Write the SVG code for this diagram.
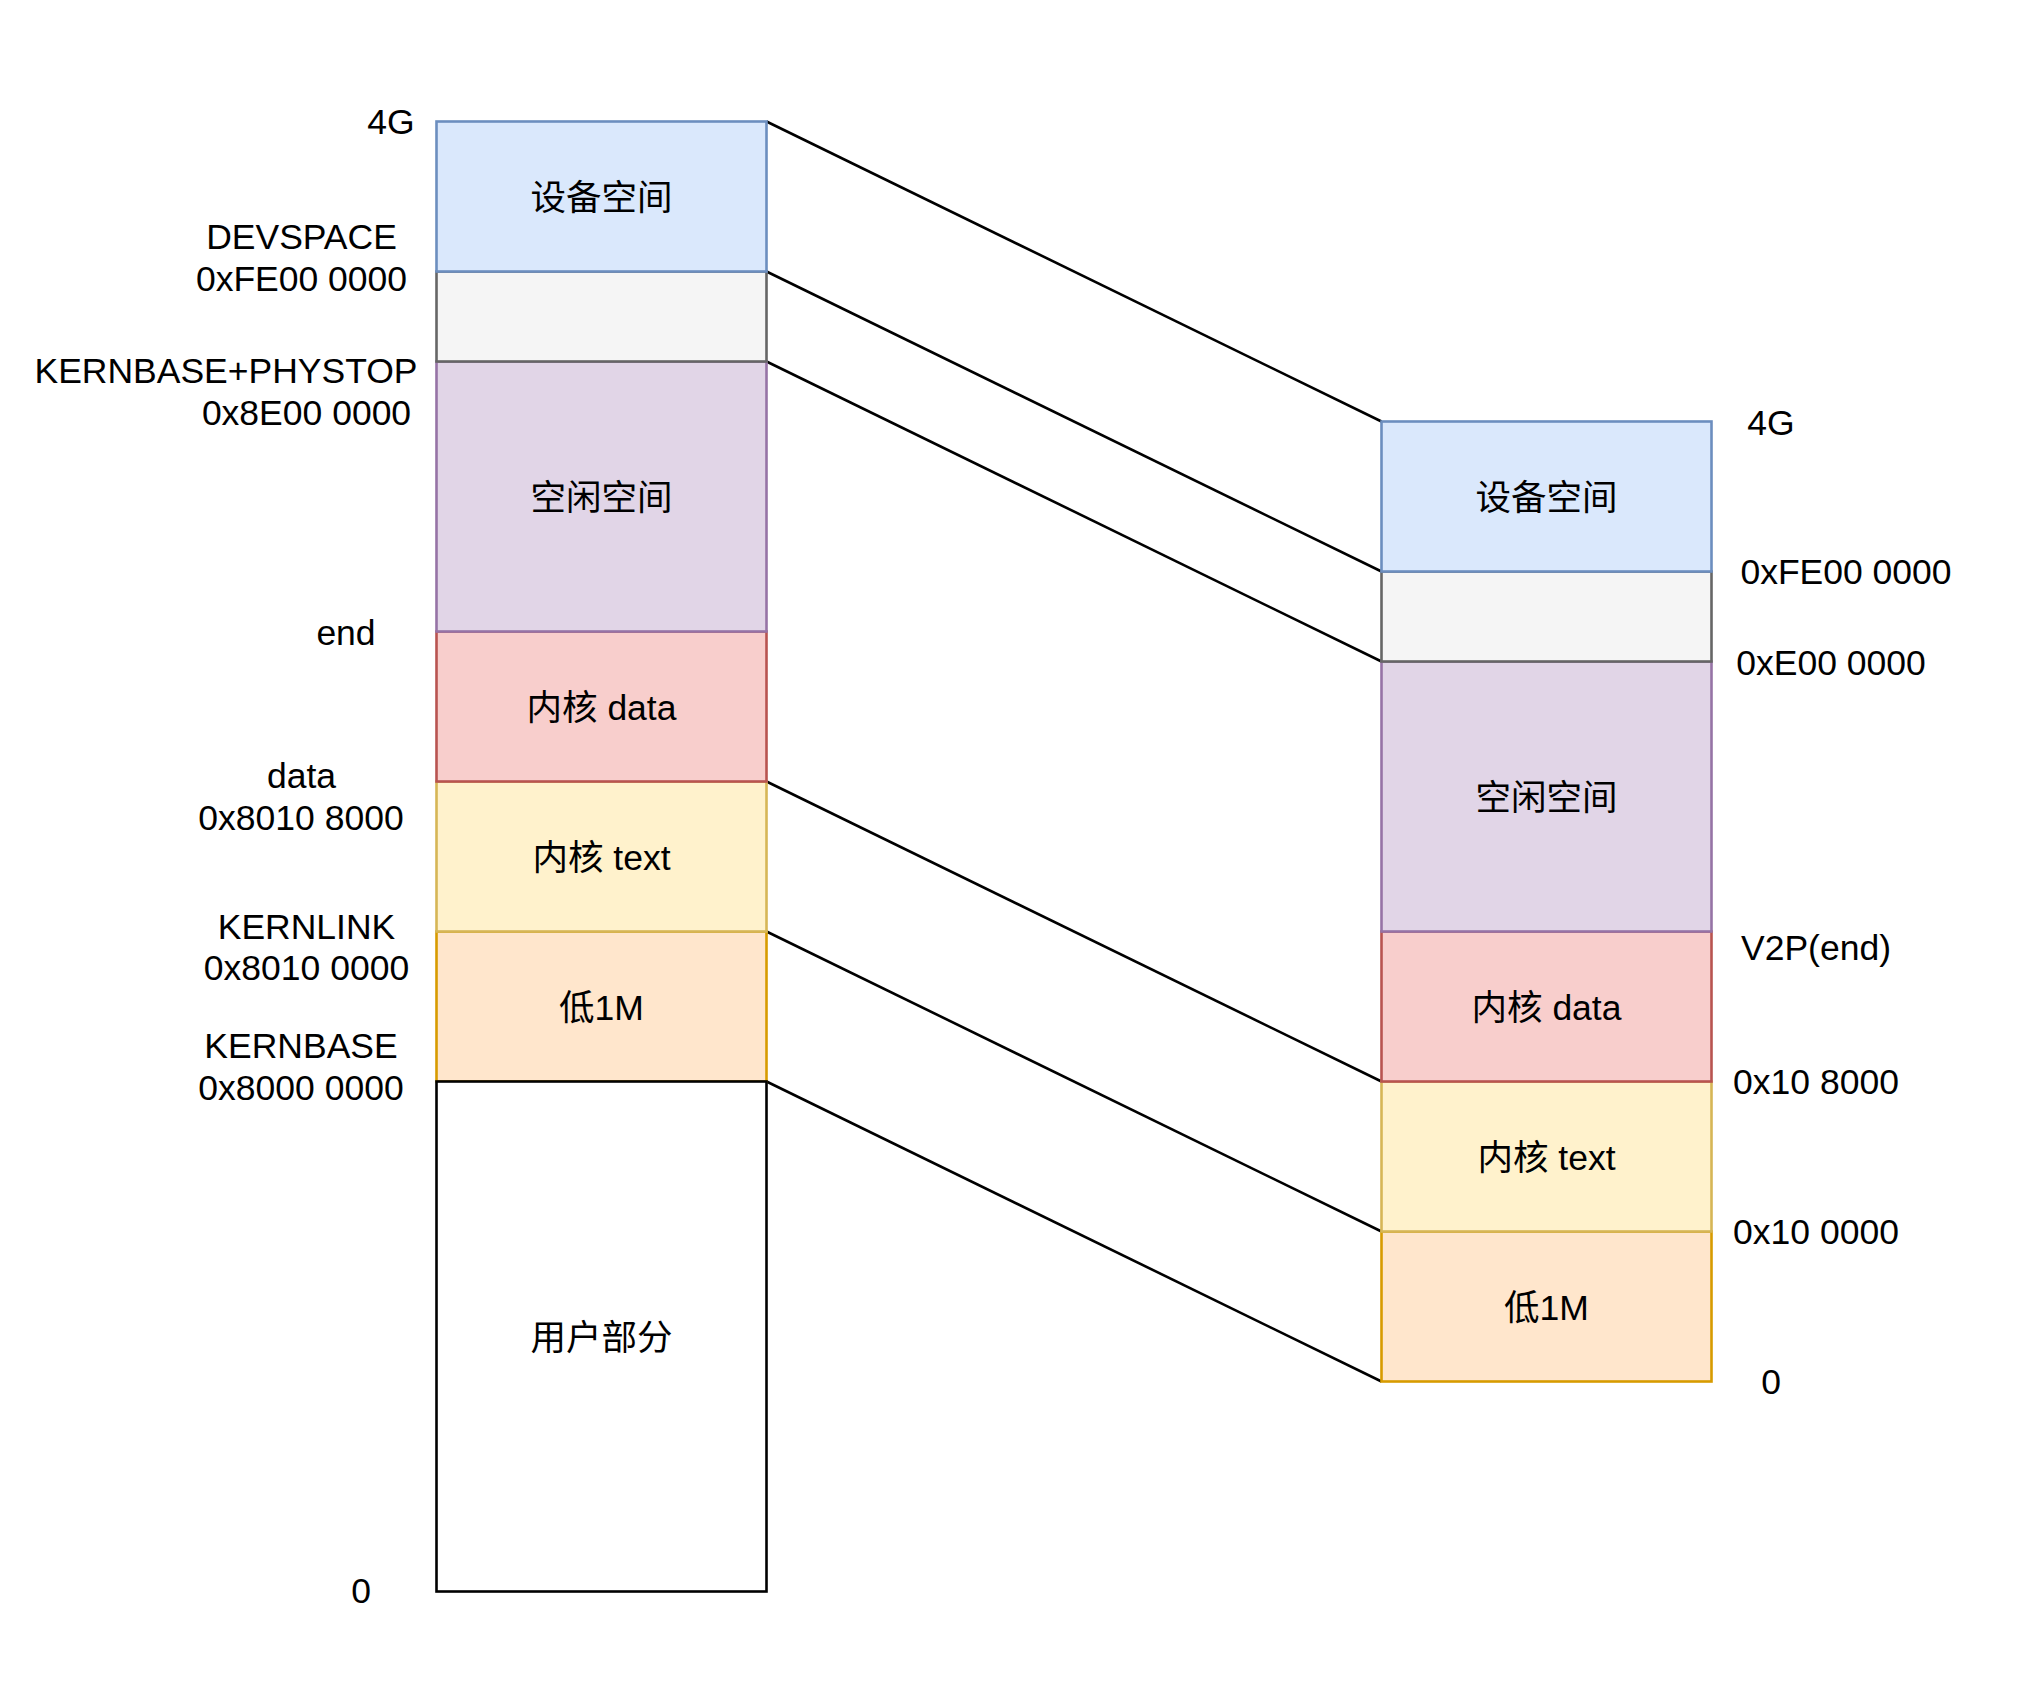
<svg xmlns="http://www.w3.org/2000/svg" width="2043" height="1683" viewBox="0 0 2043 1683">
<style>
text { font-family: "Liberation Sans", "Noto Sans CJK SC", sans-serif; font-size: 35.5px; fill: #000000; text-anchor: middle; }
rect { stroke-width: 2.6; }
.blue { fill: #dae8fc; stroke: #6c8ebf; }
.gray { fill: #f5f5f5; stroke: #666666; }
.purple { fill: #e1d5e7; stroke: #9673a6; }
.pink { fill: #f8cecc; stroke: #b85450; }
.yellow { fill: #fff2cc; stroke: #d6b656; }
.orange { fill: #ffe6cc; stroke: #d79b00; }
.white { fill: #ffffff; stroke: #000000; }
.conn line { stroke: #000000; stroke-width: 2.6; }
</style>
<rect x="0" y="0" width="2043" height="1683" fill="#ffffff"/>

<g id="connectors" class="conn">
  <line x1="766.5" y1="121.5" x2="1381.5" y2="421.5"/>
  <line x1="766.5" y1="271.5" x2="1381.5" y2="571.5"/>
  <line x1="766.5" y1="361.5" x2="1381.5" y2="661.5"/>
  <line x1="766.5" y1="781.5" x2="1381.5" y2="1081.5"/>
  <line x1="766.5" y1="931.5" x2="1381.5" y2="1231.5"/>
  <line x1="766.5" y1="1081.5" x2="1381.5" y2="1381.5"/>
</g>

<!-- Left column: virtual address space -->
<g id="v-low1m"><rect class="orange" x="436.5" y="931.5" width="330" height="150"/><text x="601.5" y="1019.5">低1M</text></g>
<g id="v-user"><rect class="white" x="436.5" y="1081.5" width="330" height="510"/><text x="601.5" y="1349.5">用户部分</text></g>
<g id="v-text"><rect class="yellow" x="436.5" y="781.5" width="330" height="150"/><text x="601.5" y="869.5">内核 text</text></g>
<g id="v-data"><rect class="pink" x="436.5" y="631.5" width="330" height="150"/><text x="601.5" y="719.5">内核 data</text></g>
<g id="v-free"><rect class="purple" x="436.5" y="361.5" width="330" height="270"/><text x="601.5" y="509.5">空闲空间</text></g>
<g id="v-gap"><rect class="gray" x="436.5" y="271.5" width="330" height="90"/></g>
<g id="v-dev"><rect class="blue" x="436.5" y="121.5" width="330" height="150"/><text x="601.5" y="209.5">设备空间</text></g>

<!-- Right column: physical address space -->
<g id="p-low1m"><rect class="orange" x="1381.5" y="1231.5" width="330" height="150"/><text x="1546.5" y="1319.5">低1M</text></g>
<g id="p-text"><rect class="yellow" x="1381.5" y="1081.5" width="330" height="150"/><text x="1546.5" y="1169.5">内核 text</text></g>
<g id="p-data"><rect class="pink" x="1381.5" y="931.5" width="330" height="150"/><text x="1546.5" y="1019.5">内核 data</text></g>
<g id="p-free"><rect class="purple" x="1381.5" y="661.5" width="330" height="270"/><text x="1546.5" y="809.5">空闲空间</text></g>
<g id="p-gap"><rect class="gray" x="1381.5" y="571.5" width="330" height="90"/></g>
<g id="p-dev"><rect class="blue" x="1381.5" y="421.5" width="330" height="150"/><text x="1546.5" y="509.5">设备空间</text></g>

<!-- Left labels -->
<g id="left-labels">
  <text x="391" y="134">4G</text>
  <text x="301.5" y="249">DEVSPACE</text>
  <text x="301.5" y="291">0xFE00 0000</text>
  <text x="226" y="383">KERNBASE+PHYSTOP</text>
  <text x="306.5" y="425">0x8E00 0000</text>
  <text x="346" y="645">end</text>
  <text x="301.5" y="788">data</text>
  <text x="301" y="830">0x8010 8000</text>
  <text x="306.5" y="939">KERNLINK</text>
  <text x="306.5" y="980">0x8010 0000</text>
  <text x="301" y="1058">KERNBASE</text>
  <text x="301" y="1100">0x8000 0000</text>
  <text x="361" y="1603">0</text>
</g>

<!-- Right labels -->
<g id="right-labels">
  <text x="1771" y="435">4G</text>
  <text x="1846" y="584">0xFE00 0000</text>
  <text x="1831" y="675">0xE00 0000</text>
  <text x="1816" y="960">V2P(end)</text>
  <text x="1816" y="1094">0x10 8000</text>
  <text x="1816" y="1243.5">0x10 0000</text>
  <text x="1771" y="1393.5">0</text>
</g>
</svg>
